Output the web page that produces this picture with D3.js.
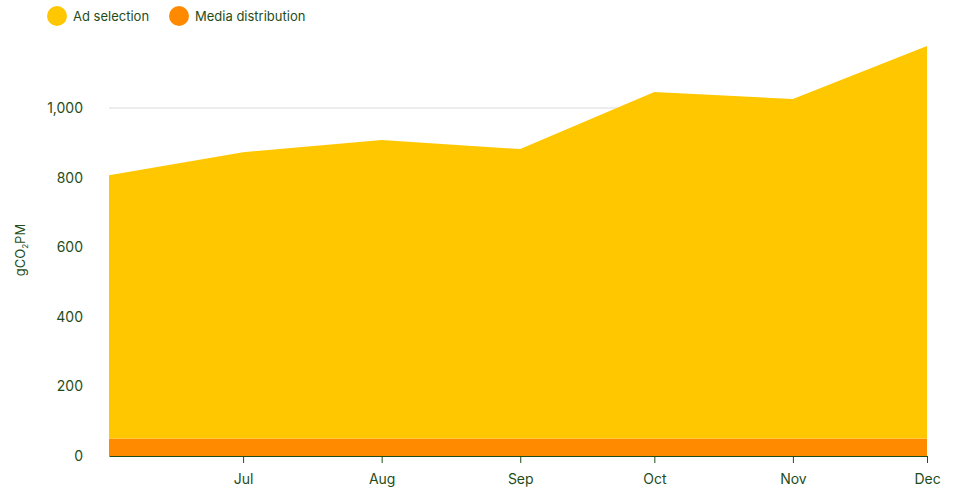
<!DOCTYPE html>
<html><head><meta charset="utf-8">
<script src="https://cdn.jsdelivr.net/npm/d3@7"></script>
<style>
body{margin:0;background:#fff;}
text{font-family:Inter, "Noto Sans", sans-serif;}
</style></head>
<body><svg id="c" width="958" height="488"></svg>
<script>
const months = ["2023-06-01","2023-07-01","2023-08-01","2023-09-01","2023-10-01","2023-11-01","2023-12-01"];
const adSelection = [757, 823, 858, 832, 996, 976, 1128];
const mediaDistribution = [50, 50, 50, 50, 50, 50, 50];
const seriesNames = ["Ad selection", "Media distribution"];
const seriesColors = ["#FFC700", "#FF8A00"];
const yTicks = [0, 200, 400, 600, 800, 1000];

const textColor = "#1f4d19";
const svg = d3.select("#c");
const parse = d3.timeParse("%Y-%m-%d");
const data = months.map((m,i)=>({date:parse(m), media:mediaDistribution[i], ad:adSelection[i]}));

const x = d3.scaleTime().domain(d3.extent(data,d=>d.date)).range([109,927]);
const y = d3.scaleLinear().domain([0,1000]).range([456,108]);

// grid
svg.append("g").selectAll("line").data(yTicks.filter(d=>d>0)).join("line")
  .attr("x1",109).attr("x2",927).attr("y1",d=>y(d)).attr("y2",d=>y(d))
  .attr("stroke","#e6e6e6").attr("stroke-width",1.5);

const stack = d3.stack().keys(["media","ad"])(data);
const area = d3.area().x(d=>x(d.data.date)).y0(d=>y(d[0])).y1(d=>y(d[1]));
const colorByKey = {media:seriesColors[1], ad:seriesColors[0]};
svg.append("g").selectAll("path").data(stack).join("path")
  .attr("d",area).attr("fill",d=>colorByKey[d.key]);

// x axis
const xAxis = d3.axisBottom(x).tickValues(data.slice(1).map(d=>d.date))
  .tickFormat(d3.timeFormat("%b")).tickSize(7).tickSizeOuter(0).tickPadding(11);
const gx = svg.append("g").attr("transform","translate(0,456)").call(xAxis);
gx.select(".domain").attr("stroke",textColor).attr("stroke-width",1.2);
gx.selectAll(".tick line").attr("stroke",textColor);
gx.selectAll("text").attr("fill",textColor).attr("font-size",14).attr("font-family","Inter, sans-serif");

// y axis
const yAxis = d3.axisLeft(y).tickValues(yTicks).tickFormat(d3.format(",")).tickSize(0).tickPadding(26);
const gy = svg.append("g").attr("transform","translate(109,0)").call(yAxis);
gy.select(".domain").remove();
gy.selectAll("text").attr("fill",textColor).attr("font-size",14).attr("font-family","Inter, sans-serif");

// y label
const yl = svg.append("text").attr("transform","translate(25,250) rotate(-90)")
  .attr("text-anchor","middle").attr("fill",textColor).attr("font-size",13);
yl.append("tspan").text("gCO");
yl.append("tspan").text("2").attr("font-size",8).attr("dy",3);
yl.append("tspan").text("PM").attr("dy",-3);

// legend
const legendX = [57, 179];
const lg = svg.append("g").selectAll("g").data(seriesNames).join("g")
  .attr("transform",(d,i)=>`translate(${legendX[i]},16)`);
lg.append("circle").attr("r",10).attr("fill",(d,i)=>seriesColors[i]);
lg.append("text").attr("x",16).attr("y",5).text(d=>d)
  .attr("fill",textColor).attr("font-size",13);
</script></body></html>
